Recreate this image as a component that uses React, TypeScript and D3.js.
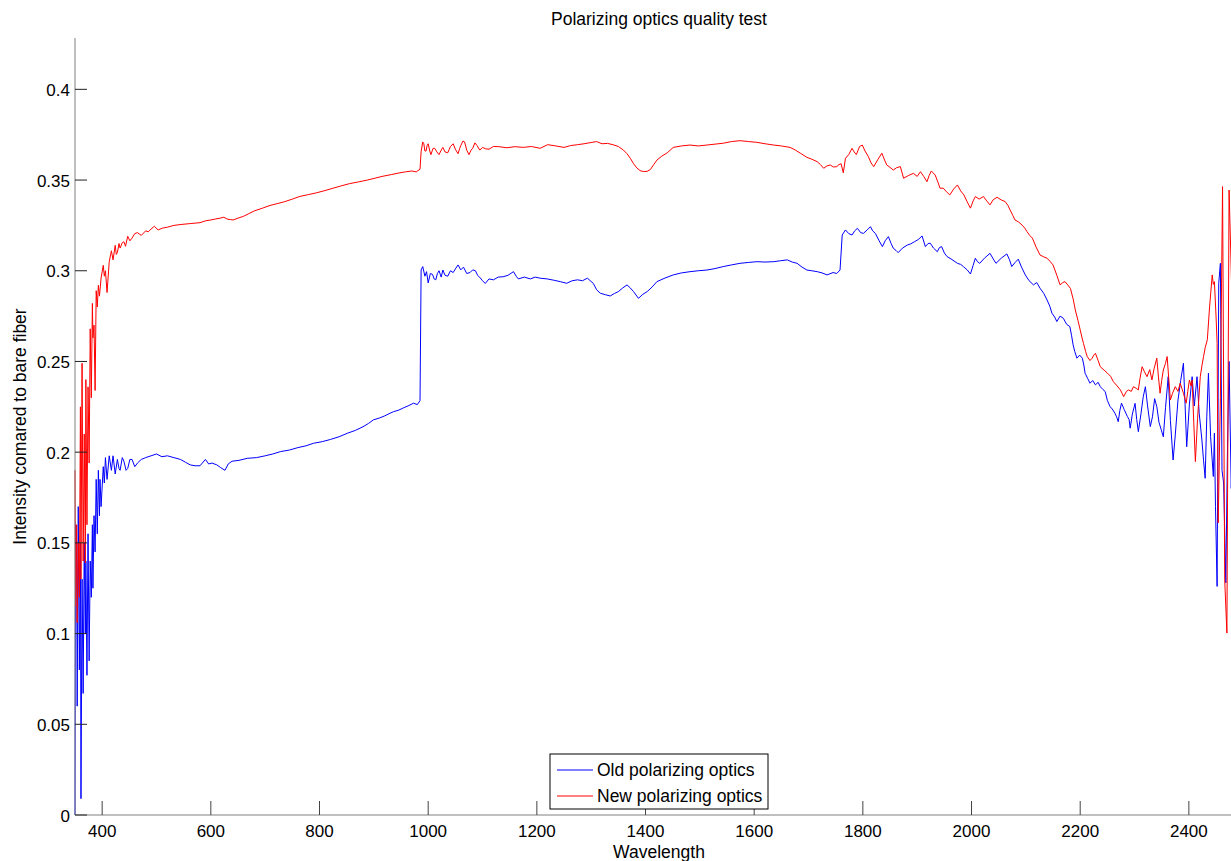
import React from "react";
import * as d3 from "d3";

const chartTitle = "Polarizing optics quality test";
const xLabel = "Wavelength";
const yLabel = "Intensity comared to bare fiber";
const seriesNames = ["Old polarizing optics", "New polarizing optics"];
const xTicks = [400, 600, 800, 1000, 1200, 1400, 1600, 1800, 2000, 2200, 2400];
const yTicks = [0, 0.05, 0.1, 0.15, 0.2, 0.25, 0.3, 0.35, 0.4];

// [wavelength, intensity]
const oldOptics: [number, number][] = [
  [350, 0.0], [351, 0.16], [353, 0.15], [354, 0.06], [356, 0.17], [358, 0.08], [360, 0.15], [361, 0.009],
  [363, 0.13], [365, 0.067], [367, 0.15], [369, 0.1], [370, 0.14], [372, 0.077], [374, 0.155], [376, 0.085],
  [378, 0.14], [380, 0.12], [382, 0.16], [383, 0.125], [385, 0.165], [387, 0.145], [389, 0.185], [391, 0.155],
  [393, 0.19], [395, 0.165], [396, 0.185], [398, 0.17], [402, 0.192], [404, 0.183], [406, 0.197], [409, 0.185],
  [413, 0.198], [417, 0.19], [420, 0.198], [424, 0.188], [428, 0.196], [431, 0.191], [433, 0.19], [437, 0.197],
  [440, 0.195], [444, 0.19], [447, 0.191], [451, 0.196], [455, 0.196], [460, 0.192], [465, 0.194], [472, 0.196],
  [480, 0.197], [490, 0.198], [500, 0.199], [510, 0.1975], [520, 0.198], [532, 0.197], [544, 0.196], [553, 0.1945],
  [562, 0.193], [571, 0.1925], [580, 0.1925], [590, 0.196], [596, 0.1935], [602, 0.194], [611, 0.193], [618, 0.1915],
  [626, 0.19], [632, 0.1935], [639, 0.195], [652, 0.1955], [667, 0.1966], [684, 0.197], [700, 0.198], [714, 0.199],
  [728, 0.2003], [745, 0.2012], [760, 0.2025], [775, 0.2035], [789, 0.2049], [805, 0.2058], [820, 0.207], [836, 0.2085],
  [851, 0.2104], [866, 0.212], [880, 0.214], [890, 0.2158], [899, 0.2178], [910, 0.2188], [920, 0.22], [928, 0.2212],
  [936, 0.2223], [946, 0.2232], [955, 0.2245], [963, 0.2255], [973, 0.227], [980, 0.2262], [985, 0.2284], [987, 0.3004],
  [990, 0.3023], [994, 0.297], [997, 0.2995], [1000, 0.2933], [1004, 0.2985], [1008, 0.298], [1011, 0.2955], [1014, 0.295],
  [1017, 0.2985], [1020, 0.3], [1024, 0.2965], [1027, 0.3004], [1031, 0.2975], [1036, 0.297], [1041, 0.3], [1046, 0.299],
  [1050, 0.301], [1055, 0.3032], [1060, 0.3005], [1065, 0.302], [1071, 0.2985], [1077, 0.299], [1082, 0.3005], [1087, 0.3],
  [1091, 0.2975], [1096, 0.296], [1100, 0.2945], [1105, 0.293], [1112, 0.2955], [1120, 0.295], [1129, 0.2965], [1138, 0.2967],
  [1147, 0.2975], [1157, 0.2995], [1162, 0.297], [1166, 0.2955], [1177, 0.2965], [1188, 0.2955], [1197, 0.2965], [1206, 0.2959],
  [1219, 0.2955], [1231, 0.2948], [1243, 0.294], [1255, 0.2931], [1265, 0.2945], [1275, 0.295], [1284, 0.2945], [1293, 0.2959],
  [1304, 0.293], [1310, 0.2895], [1317, 0.2876], [1326, 0.2868], [1335, 0.2861], [1343, 0.2875], [1350, 0.2885], [1358, 0.2905],
  [1366, 0.2922], [1372, 0.2905], [1378, 0.2885], [1387, 0.2848], [1395, 0.287], [1403, 0.2885], [1412, 0.291], [1421, 0.294],
  [1436, 0.296], [1451, 0.2977], [1466, 0.2988], [1482, 0.2995], [1497, 0.3], [1513, 0.3004], [1528, 0.3012], [1543, 0.3023],
  [1558, 0.3032], [1574, 0.3041], [1590, 0.3046], [1605, 0.305], [1620, 0.3048], [1636, 0.305], [1648, 0.3055], [1661, 0.306],
  [1670, 0.3048], [1679, 0.3041], [1688, 0.302], [1697, 0.3004], [1706, 0.3], [1716, 0.2995], [1725, 0.2988], [1734, 0.2977],
  [1745, 0.299], [1752, 0.2985], [1758, 0.3004], [1762, 0.3197], [1768, 0.3225], [1774, 0.3205], [1780, 0.3197], [1785, 0.322],
  [1790, 0.3234], [1796, 0.321], [1801, 0.3206], [1808, 0.3225], [1814, 0.3243], [1818, 0.322], [1823, 0.3206], [1830, 0.3165],
  [1836, 0.3133], [1841, 0.3165], [1847, 0.3188], [1852, 0.315], [1856, 0.3124], [1861, 0.3112], [1865, 0.31], [1873, 0.3125],
  [1882, 0.3142], [1888, 0.3148], [1895, 0.316], [1902, 0.3172], [1909, 0.3192], [1915, 0.3133], [1920, 0.315], [1924, 0.3152],
  [1930, 0.3125], [1937, 0.3105], [1941, 0.3128], [1945, 0.3133], [1950, 0.3098], [1955, 0.3078], [1964, 0.3062], [1974, 0.3041],
  [1980, 0.3035], [1985, 0.3023], [1992, 0.3005], [1998, 0.2982], [2003, 0.303], [2007, 0.3069], [2011, 0.305], [2015, 0.3041],
  [2024, 0.307], [2034, 0.3096], [2040, 0.3065], [2045, 0.3041], [2055, 0.307], [2065, 0.3093], [2070, 0.306], [2074, 0.3023],
  [2080, 0.3045], [2086, 0.3064], [2092, 0.302], [2099, 0.2977], [2106, 0.2945], [2114, 0.2922], [2120, 0.2935], [2126, 0.2904],
  [2133, 0.2875], [2139, 0.2839], [2144, 0.2805], [2148, 0.2766], [2153, 0.2745], [2157, 0.272], [2163, 0.275], [2169, 0.2738],
  [2175, 0.2705], [2181, 0.2692], [2184, 0.2645], [2187, 0.2591], [2190, 0.2555], [2194, 0.2518], [2199, 0.2535], [2204, 0.2518],
  [2207, 0.2475], [2209, 0.2435], [2214, 0.2405], [2218, 0.238], [2223, 0.2395], [2228, 0.2371], [2233, 0.2385], [2237, 0.2361],
  [2242, 0.2345], [2246, 0.2334], [2250, 0.2285], [2255, 0.2251], [2259, 0.2238], [2264, 0.2214], [2267, 0.2195], [2270, 0.2168],
  [2273, 0.223], [2276, 0.227], [2281, 0.2235], [2287, 0.2196], [2290, 0.218], [2292, 0.2132], [2296, 0.221], [2301, 0.2269],
  [2304, 0.218], [2307, 0.2113], [2312, 0.2215], [2316, 0.2305], [2320, 0.2361], [2324, 0.2255], [2329, 0.2141], [2333, 0.2195],
  [2337, 0.2295], [2341, 0.2251], [2345, 0.2165], [2349, 0.2125], [2353, 0.2085], [2357, 0.2245], [2362, 0.2416], [2366, 0.2175],
  [2371, 0.1957], [2375, 0.2095], [2380, 0.2288], [2385, 0.2395], [2390, 0.249], [2393, 0.2265], [2396, 0.203], [2401, 0.2265],
  [2406, 0.2416], [2410, 0.2255], [2415, 0.2416], [2419, 0.2215], [2424, 0.2067], [2427, 0.1955], [2430, 0.1856], [2433, 0.2195],
  [2436, 0.2435], [2440, 0.2085], [2445, 0.1866], [2447, 0.2105], [2449, 0.17], [2452, 0.126], [2455, 0.2931], [2458, 0.3041],
  [2461, 0.19], [2464, 0.183], [2468, 0.128], [2471, 0.2], [2474, 0.25], [2478, 0.18], [2482, 0.22],
];

const newOptics: [number, number][] = [
  [350, 0.19], [351, 0.115], [353, 0.16], [354, 0.106], [356, 0.15], [358, 0.12], [360, 0.225], [361, 0.13],
  [363, 0.249], [365, 0.14], [367, 0.21], [369, 0.139], [370, 0.24], [372, 0.16], [374, 0.236], [376, 0.194],
  [378, 0.268], [380, 0.23], [382, 0.282], [383, 0.263], [385, 0.27], [387, 0.234], [389, 0.289], [391, 0.28],
  [393, 0.292], [395, 0.286], [398, 0.296], [402, 0.303], [404, 0.297], [406, 0.3], [409, 0.288], [413, 0.305],
  [417, 0.311], [420, 0.306], [424, 0.314], [426, 0.309], [428, 0.31], [431, 0.315], [433, 0.3125], [437, 0.3155],
  [440, 0.316], [443, 0.3135], [447, 0.319], [451, 0.3165], [455, 0.318], [460, 0.3205], [465, 0.321], [472, 0.3195],
  [480, 0.322], [485, 0.3215], [490, 0.323], [496, 0.3245], [503, 0.3225], [511, 0.3235], [520, 0.324], [532, 0.325],
  [545, 0.3255], [562, 0.326], [580, 0.3265], [590, 0.3275], [600, 0.328], [608, 0.3285], [617, 0.329], [624, 0.3295],
  [630, 0.3285], [636, 0.3282], [641, 0.328], [650, 0.329], [660, 0.33], [670, 0.3315], [680, 0.333], [695, 0.3345],
  [709, 0.336], [722, 0.337], [735, 0.338], [750, 0.3395], [764, 0.341], [780, 0.342], [795, 0.343], [810, 0.3442],
  [825, 0.3455], [840, 0.3468], [855, 0.348], [872, 0.349], [888, 0.35], [902, 0.351], [915, 0.352], [932, 0.353],
  [948, 0.354], [958, 0.3545], [970, 0.355], [978, 0.3545], [985, 0.356], [987, 0.3657], [990, 0.371], [992, 0.37],
  [994, 0.366], [996, 0.366], [998, 0.369], [1000, 0.37], [1003, 0.366], [1005, 0.364], [1009, 0.3675], [1012, 0.3675],
  [1016, 0.3655], [1020, 0.364], [1024, 0.3665], [1027, 0.368], [1031, 0.3655], [1036, 0.365], [1041, 0.3685], [1046, 0.37],
  [1050, 0.367], [1055, 0.3645], [1058, 0.3675], [1060, 0.369], [1064, 0.3715], [1067, 0.371], [1071, 0.3665], [1075, 0.364],
  [1079, 0.3665], [1082, 0.3675], [1086, 0.3705], [1090, 0.369], [1095, 0.3665], [1100, 0.368], [1106, 0.3672], [1112, 0.367],
  [1120, 0.3685], [1130, 0.3684], [1145, 0.3678], [1160, 0.3684], [1175, 0.368], [1190, 0.3685], [1206, 0.3675], [1220, 0.3695],
  [1235, 0.3688], [1250, 0.368], [1262, 0.369], [1275, 0.3695], [1287, 0.37], [1298, 0.3706], [1310, 0.3712], [1320, 0.37],
  [1330, 0.3702], [1340, 0.3695], [1350, 0.3685], [1359, 0.3666], [1366, 0.3645], [1372, 0.362], [1378, 0.359], [1384, 0.3567],
  [1390, 0.3552], [1396, 0.3547], [1403, 0.3548], [1409, 0.3558], [1415, 0.3585], [1421, 0.361], [1430, 0.3632], [1440, 0.365],
  [1451, 0.368], [1466, 0.3688], [1482, 0.3693], [1497, 0.3688], [1513, 0.3693], [1528, 0.3698], [1543, 0.3703], [1558, 0.3712],
  [1574, 0.3717], [1590, 0.3712], [1605, 0.3708], [1620, 0.37], [1636, 0.3693], [1650, 0.3688], [1666, 0.368], [1676, 0.3665],
  [1685, 0.3648], [1697, 0.3625], [1706, 0.3615], [1716, 0.3601], [1722, 0.3585], [1728, 0.3565], [1734, 0.3578], [1740, 0.3583],
  [1746, 0.3572], [1752, 0.3574], [1756, 0.3585], [1760, 0.359], [1764, 0.354], [1768, 0.362], [1774, 0.364], [1780, 0.3675],
  [1784, 0.3655], [1788, 0.364], [1794, 0.3685], [1799, 0.3693], [1804, 0.366], [1810, 0.363], [1815, 0.3595], [1820, 0.3574],
  [1828, 0.3615], [1835, 0.3648], [1840, 0.361], [1844, 0.3583], [1850, 0.357], [1856, 0.3555], [1862, 0.3568], [1869, 0.3574],
  [1875, 0.351], [1884, 0.3525], [1893, 0.3537], [1900, 0.352], [1906, 0.3546], [1912, 0.352], [1918, 0.3491], [1922, 0.3525],
  [1926, 0.355], [1933, 0.3528], [1938, 0.349], [1942, 0.3455], [1948, 0.3455], [1954, 0.3435], [1960, 0.3418], [1967, 0.345],
  [1974, 0.3473], [1980, 0.344], [1986, 0.3418], [1992, 0.338], [1998, 0.3345], [2003, 0.3385], [2007, 0.3409], [2014, 0.3395],
  [2022, 0.3409], [2028, 0.3385], [2034, 0.3363], [2040, 0.3392], [2047, 0.3405], [2055, 0.339], [2062, 0.3381], [2067, 0.336],
  [2071, 0.3335], [2076, 0.3305], [2080, 0.328], [2087, 0.3268], [2093, 0.3252], [2098, 0.3235], [2102, 0.3216], [2107, 0.3195],
  [2112, 0.318], [2119, 0.313], [2126, 0.3087], [2132, 0.3078], [2139, 0.3069], [2145, 0.305], [2150, 0.3032], [2157, 0.2975],
  [2163, 0.2922], [2168, 0.2935], [2172, 0.294], [2177, 0.2922], [2182, 0.2903], [2187, 0.2845], [2191, 0.2784], [2196, 0.2725],
  [2200, 0.2674], [2203, 0.2635], [2206, 0.26], [2210, 0.2555], [2213, 0.2527], [2218, 0.2505], [2222, 0.2518], [2225, 0.2535],
  [2228, 0.2545], [2233, 0.2505], [2237, 0.2471], [2244, 0.2452], [2250, 0.2436], [2256, 0.2418], [2261, 0.2389], [2268, 0.2365],
  [2274, 0.2343], [2277, 0.2325], [2280, 0.2306], [2285, 0.2335], [2289, 0.2343], [2294, 0.2335], [2298, 0.2361], [2303, 0.2352],
  [2307, 0.2343], [2310, 0.2405], [2314, 0.2471], [2318, 0.2445], [2323, 0.2416], [2328, 0.2455], [2332, 0.2398], [2336, 0.246],
  [2341, 0.2518], [2344, 0.2415], [2347, 0.2325], [2350, 0.2395], [2353, 0.2453], [2357, 0.249], [2360, 0.2527], [2363, 0.2405],
  [2366, 0.2288], [2370, 0.2325], [2375, 0.2361], [2380, 0.2335], [2384, 0.238], [2390, 0.2325], [2395, 0.227], [2398, 0.2335],
  [2401, 0.2398], [2404, 0.2365], [2406, 0.2398], [2409, 0.2165], [2412, 0.1948], [2416, 0.2185], [2421, 0.2416], [2424, 0.2475],
  [2427, 0.2527], [2430, 0.2575], [2434, 0.262], [2438, 0.2795], [2443, 0.2977], [2445, 0.2925], [2447, 0.294], [2450, 0.275],
  [2452, 0.26], [2454, 0.161], [2456, 0.195], [2458, 0.23], [2462, 0.3464], [2466, 0.1296], [2470, 0.1003], [2474, 0.3445],
  [2478, 0.3], [2482, 0.25],
];

const seriesColors = ["#0000ff", "#ff0000"];

export default function App() {
  const W = 1231;
  const H = 861;
  const x = d3.scaleLinear().domain([350, 2500]).range([75, 1243.2]);
  const y = d3.scaleLinear().domain([0, 0.4283]).range([815, 38]);
  const line = d3
    .line<[number, number]>()
    .x((d) => x(d[0]))
    .y((d) => y(d[1]));
  const font = "'Liberation Sans', Arial, Helvetica, sans-serif";
  const series = [oldOptics, newOptics];
  const fmt = (v: number) => (v === 0 ? "0" : String(+v.toFixed(2)));
  const legX = 550;
  const legY = 754;
  return (
    <svg
      width={W}
      height={H}
      style={{ position: "absolute", left: 0, top: 0, background: "#fff" }}
      fontFamily={font}
    >
      <rect x={0} y={0} width={W} height={H} fill="#fff" />
      {series.map((s, i) => (
        <path key={i} d={line(s) || ""} fill="none" stroke={seriesColors[i]} strokeWidth={1} />
      ))}
      {/* axes */}
      <line x1={75} y1={38} x2={75} y2={815} stroke="#808080" strokeWidth={1} />
      <line x1={75} y1={815} x2={1243} y2={815} stroke="#808080" strokeWidth={1} />
      {yTicks.map((t) => (
        <g key={"y" + t}>
          <line x1={75} x2={87} y1={y(t)} y2={y(t)} stroke="#222" strokeWidth={1} />
          <text x={70} y={y(t) + 6.5} textAnchor="end" fontSize={17} fill="#000">
            {fmt(t)}
          </text>
        </g>
      ))}
      {xTicks.map((t) => (
        <g key={"x" + t}>
          <line x1={x(t)} x2={x(t)} y1={815} y2={801} stroke="#444" strokeWidth={1} />
          <text x={x(t)} y={837} textAnchor="middle" fontSize={17} fill="#000">
            {t}
          </text>
        </g>
      ))}
      <text x={659} y={25} textAnchor="middle" fontSize={17.5} fill="#000">
        {chartTitle}
      </text>
      <text x={659} y={858} textAnchor="middle" fontSize={17.5} fill="#000">
        {xLabel}
      </text>
      <text
        transform={`translate(26,${(38 + 815) / 2}) rotate(-90)`}
        textAnchor="middle"
        fontSize={17.5}
        fill="#000"
      >
        {yLabel}
      </text>
      {/* legend */}
      <rect x={legX} y={legY} width={218} height={55} fill="#fff" stroke="#000" strokeWidth={1} />
      {seriesNames.map((n, i) => (
        <g key={n}>
          <line
            x1={legX + 7}
            x2={legX + 43}
            y1={legY + 16 + i * 26}
            y2={legY + 16 + i * 26}
            stroke={seriesColors[i]}
            strokeWidth={1}
          />
          <text x={legX + 47} y={legY + 16 + i * 26 + 6} fontSize={17.5} fill="#000">
            {n}
          </text>
        </g>
      ))}
    </svg>
  );
}
